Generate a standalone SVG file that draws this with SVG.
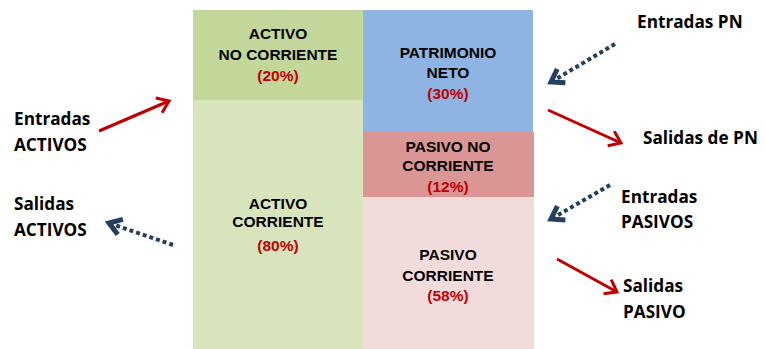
<svg xmlns="http://www.w3.org/2000/svg" width="765" height="349" viewBox="0 0 765 349">
<style>
.bl{font-family:"Liberation Sans",Arial,sans-serif;font-weight:bold;font-size:15.5px;fill:#000;text-anchor:middle}
.pc{fill:#c00000}
.ol{font-family:"Open Sans","Liberation Sans",sans-serif;font-weight:bold;font-size:17.2px;fill:#000}
.red{stroke:#c00000;stroke-width:3;fill:none}
.blue{stroke:#243f60;stroke-width:4;fill:none;stroke-dasharray:4 3}
</style>
<defs>
<marker id="mr" markerUnits="userSpaceOnUse" markerWidth="30" markerHeight="30" viewBox="-15 -15 30 30" refX="0" refY="0" orient="auto">
<path d="M-11,-8 L0,0 L-11,8" stroke="#c00000" stroke-width="3" fill="none" stroke-linejoin="miter"/>
</marker>
<marker id="mb" markerUnits="userSpaceOnUse" markerWidth="30" markerHeight="30" viewBox="-15 -15 30 30" refX="0" refY="0" orient="auto">
<path d="M-12,-8 L0,0 L-12,8" stroke="#243f60" stroke-width="5" fill="none" stroke-linejoin="miter"/>
</marker>
</defs>
<rect width="765" height="349" fill="#fff"/>
<g id="activo-no-corriente">
<rect x="193" y="10" width="170" height="90" fill="#c4d79b"/>
<text class="bl" x="278" y="39">ACTIVO</text>
<text class="bl" x="278" y="60">NO CORRIENTE</text>
<text class="bl pc" x="278" y="81">(20%)</text>
</g>
<g id="activo-corriente">
<rect x="193" y="100" width="170" height="249" fill="#d8e4bc"/>
<text class="bl" x="278" y="209">ACTIVO</text>
<text class="bl" x="278" y="227">CORRIENTE</text>
<text class="bl pc" x="278" y="251">(80%)</text>
</g>
<g id="patrimonio-neto">
<rect x="363" y="10" width="170" height="122" fill="#8db4e2"/>
<text class="bl" x="448" y="58">PATRIMONIO</text>
<text class="bl" x="448" y="78">NETO</text>
<text class="bl pc" x="448" y="99">(30%)</text>
</g>
<g id="pasivo-no-corriente">
<rect x="363" y="132" width="171" height="65" fill="#da9694"/>
<text class="bl" x="448" y="152">PASIVO NO</text>
<text class="bl" x="448" y="171">CORRIENTE</text>
<text class="bl pc" x="448" y="192">(12%)</text>
</g>
<g id="pasivo-corriente">
<rect x="363" y="197" width="171" height="152" fill="#f2dcdb"/>
<text class="bl" x="448" y="260">PASIVO</text>
<text class="bl" x="448" y="281">CORRIENTE</text>
<text class="bl pc" x="448" y="301">(58%)</text>
</g>
<g id="labels">
<text class="ol" x="14" y="125">Entradas</text>
<text class="ol" x="14" y="151">ACTIVOS</text>
<text class="ol" x="14" y="210">Salidas</text>
<text class="ol" x="14" y="236">ACTIVOS</text>
<text class="ol" x="637" y="28">Entradas PN</text>
<text class="ol" x="643" y="144">Salidas de PN</text>
<text class="ol" x="621" y="203">Entradas</text>
<text class="ol" x="621" y="228">PASIVOS</text>
<text class="ol" x="623" y="292">Salidas</text>
<text class="ol" x="623" y="318">PASIVO</text>
</g>
<g id="connectors">
<line class="red" x1="99" y1="131" x2="169" y2="101" marker-end="url(#mr)"/>
<line class="blue" x1="173" y1="245" x2="109" y2="223" marker-end="url(#mb)"/>
<line class="blue" x1="615" y1="44" x2="551" y2="82" marker-end="url(#mb)"/>
<line class="red" x1="548" y1="110" x2="621" y2="143" marker-end="url(#mr)"/>
<line class="blue" x1="610" y1="185" x2="551" y2="219" marker-end="url(#mb)"/>
<line class="red" x1="557" y1="259" x2="617" y2="292" marker-end="url(#mr)"/>
</g>
</svg>
